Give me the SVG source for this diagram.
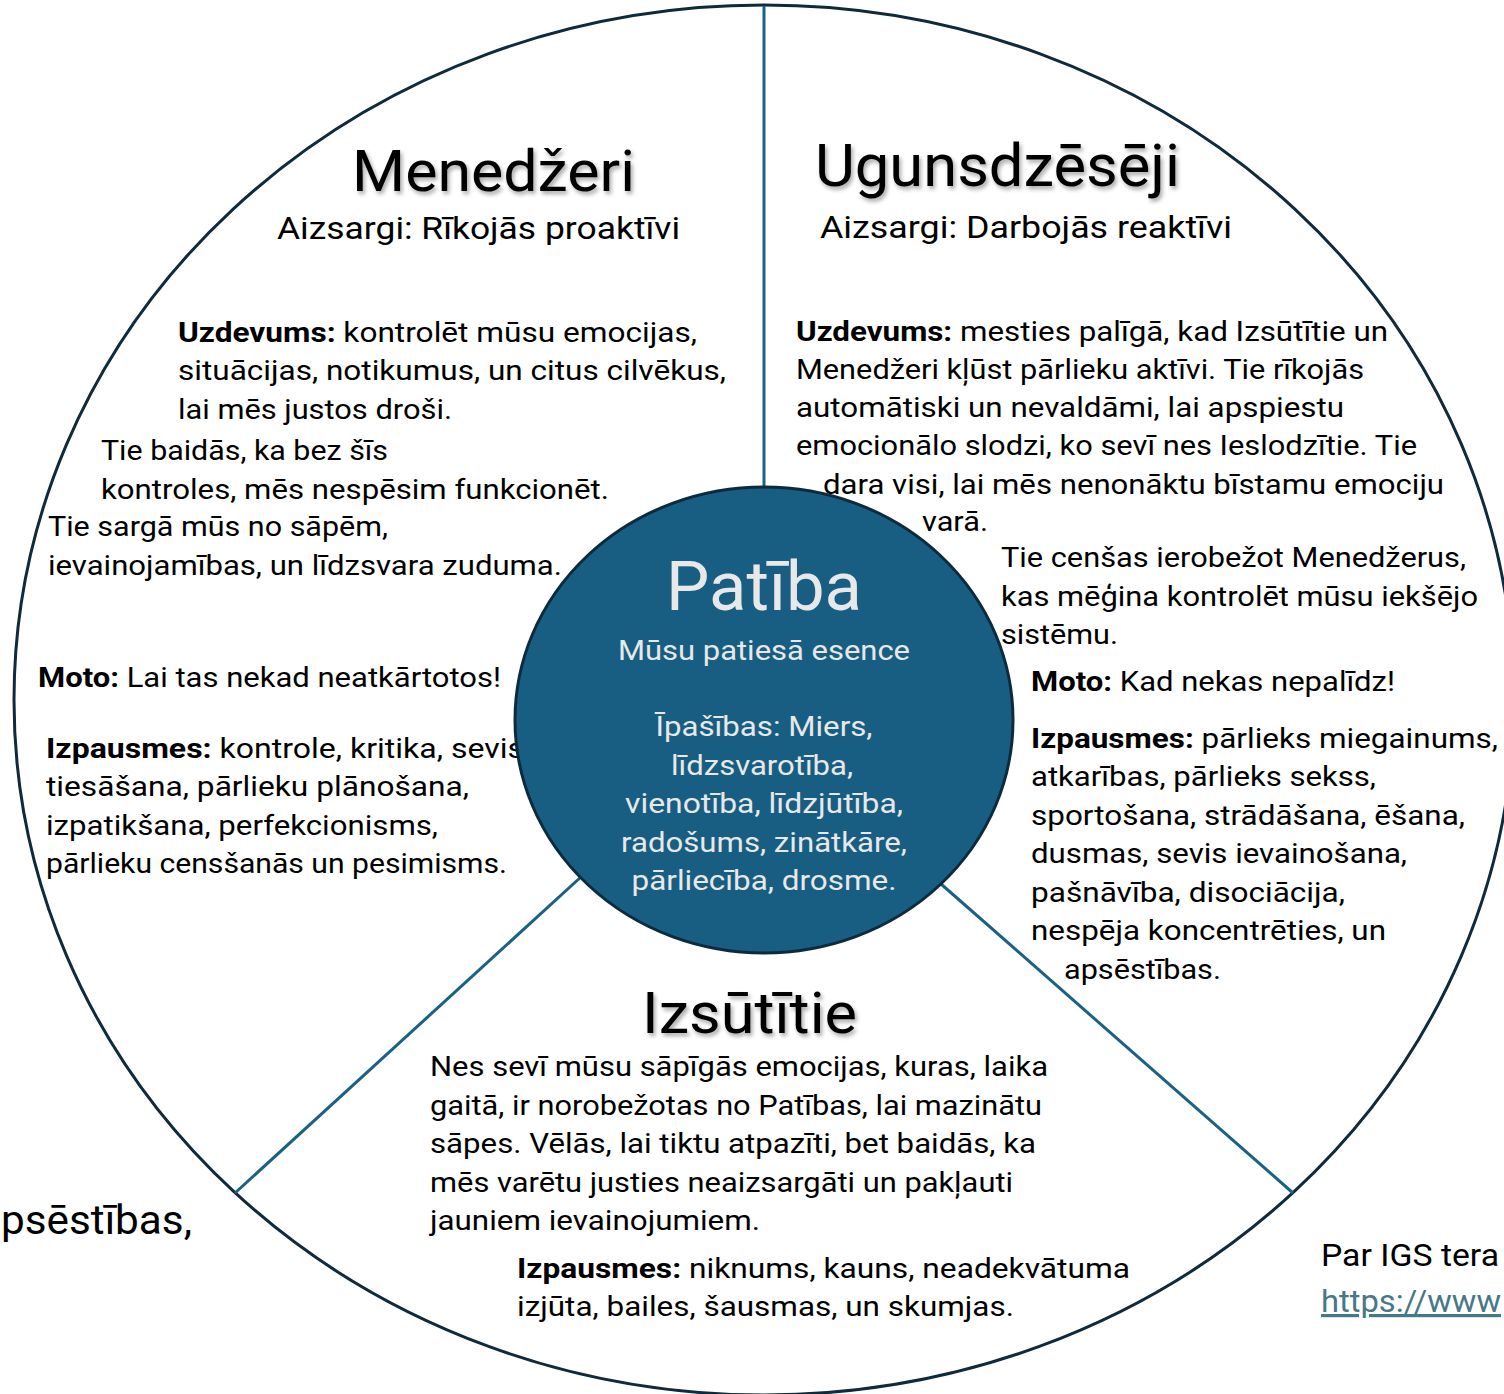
<svg xmlns="http://www.w3.org/2000/svg" width="1504" height="1394" viewBox="0 0 1504 1394">
<defs>
<style>
.t{font-family:Roboto,"Liberation Sans",sans-serif;font-size:28px;fill:#000}
.b{font-weight:700}
.h{font-family:Roboto,"Liberation Sans",sans-serif;font-size:58px;fill:#000}
.s{font-family:Roboto,"Liberation Sans",sans-serif;font-size:32px;fill:#000}
.c{font-family:Roboto,"Liberation Sans",sans-serif;font-size:28px;fill:#E8E8E8;text-anchor:middle}
.conn{stroke:#1A6186;stroke-width:3;fill:none}
.link{fill:#467886;text-decoration:underline}
</style>
<filter id="sh" x="-10%" y="-20%" width="130%" height="150%">
<feDropShadow dx="2" dy="3" stdDeviation="2" flood-color="#000" flood-opacity="0.35"/>
</filter>
</defs>
<rect width="1504" height="1394" fill="#fff"/>
<g id="outer">
<ellipse cx="764" cy="700" rx="750" ry="695" fill="#fff" stroke="#0E2A3B" stroke-width="3"/>
</g>
<g id="connectors">
<line class="conn" x1="764" y1="6" x2="764" y2="490"/>
<line class="conn" x1="582" y1="876" x2="235" y2="1193"/>
<line class="conn" x1="941" y1="884" x2="1293" y2="1193"/>
</g>
<g id="menedzeri">
<text class="h" x="352" y="191" textLength="283" lengthAdjust="spacingAndGlyphs" filter="url(#sh)">Menedžeri</text>
<text class="s" x="277" y="239" textLength="403" lengthAdjust="spacingAndGlyphs">Aizsargi: Rīkojās proaktīvi</text>
<text class="t" x="178" y="342" textLength="519" lengthAdjust="spacingAndGlyphs"><tspan class="b">Uzdevums:</tspan> kontrolēt mūsu emocijas,</text>
<text class="t" x="178" y="380" textLength="548" lengthAdjust="spacingAndGlyphs">situācijas, notikumus, un citus cilvēkus,</text>
<text class="t" x="178" y="419" textLength="274" lengthAdjust="spacingAndGlyphs">lai mēs justos droši.</text>
<text class="t" x="101" y="460" textLength="287" lengthAdjust="spacingAndGlyphs">Tie baidās, ka bez šīs</text>
<text class="t" x="101" y="499" textLength="508" lengthAdjust="spacingAndGlyphs">kontroles, mēs nespēsim funkcionēt.</text>
<text class="t" x="48" y="536" textLength="340" lengthAdjust="spacingAndGlyphs">Tie sargā mūs no sāpēm,</text>
<text class="t" x="48" y="575" textLength="514" lengthAdjust="spacingAndGlyphs">ievainojamības, un līdzsvara zuduma.</text>
<text class="t" x="38" y="687" textLength="463" lengthAdjust="spacingAndGlyphs"><tspan class="b">Moto:</tspan> Lai tas nekad neatkārtotos!</text>
<text class="t" x="46" y="758" textLength="478" lengthAdjust="spacingAndGlyphs"><tspan class="b">Izpausmes:</tspan> kontrole, kritika, sevis</text>
<text class="t" x="46" y="796" textLength="423" lengthAdjust="spacingAndGlyphs">tiesāšana, pārlieku plānošana,</text>
<text class="t" x="46" y="835" textLength="392" lengthAdjust="spacingAndGlyphs">izpatikšana, perfekcionisms,</text>
<text class="t" x="46" y="873" textLength="461" lengthAdjust="spacingAndGlyphs">pārlieku censšanās un pesimisms.</text>
</g>
<g id="ugunsdzeseji">
<text class="h" x="815" y="186" style="font-size:60px" textLength="365" lengthAdjust="spacingAndGlyphs" filter="url(#sh)">Ugunsdzēsēji</text>
<text class="s" x="820" y="238" textLength="412" lengthAdjust="spacingAndGlyphs">Aizsargi: Darbojās reaktīvi</text>
<text class="t" x="796" y="341" textLength="592" lengthAdjust="spacingAndGlyphs"><tspan class="b">Uzdevums:</tspan> mesties palīgā, kad Izsūtītie un</text>
<text class="t" x="796" y="379" textLength="568" lengthAdjust="spacingAndGlyphs">Menedžeri kļūst pārlieku aktīvi. Tie rīkojās</text>
<text class="t" x="796" y="417" textLength="548" lengthAdjust="spacingAndGlyphs">automātiski un nevaldāmi, lai apspiestu</text>
<text class="t" x="796" y="455" textLength="621" lengthAdjust="spacingAndGlyphs">emocionālo slodzi, ko sevī nes Ieslodzītie. Tie</text>
<text class="t" x="823" y="494" textLength="621" lengthAdjust="spacingAndGlyphs">dara visi, lai mēs nenonāktu bīstamu emociju</text>
<text class="t" x="922" y="531" textLength="66" lengthAdjust="spacingAndGlyphs">varā.</text>
<text class="t" x="1001" y="567" textLength="465" lengthAdjust="spacingAndGlyphs">Tie cenšas ierobežot Menedžerus,</text>
<text class="t" x="1001" y="606" textLength="477" lengthAdjust="spacingAndGlyphs">kas mēģina kontrolēt mūsu iekšējo</text>
<text class="t" x="1001" y="644" textLength="117" lengthAdjust="spacingAndGlyphs">sistēmu.</text>
<text class="t" x="1031" y="691" textLength="364" lengthAdjust="spacingAndGlyphs"><tspan class="b">Moto:</tspan> Kad nekas nepalīdz!</text>
<text class="t" x="1031" y="748" textLength="467" lengthAdjust="spacingAndGlyphs"><tspan class="b">Izpausmes:</tspan> pārlieks miegainums,</text>
<text class="t" x="1031" y="786" textLength="345" lengthAdjust="spacingAndGlyphs">atkarības, pārlieks sekss,</text>
<text class="t" x="1031" y="825" textLength="434" lengthAdjust="spacingAndGlyphs">sportošana, strādāšana, ēšana,</text>
<text class="t" x="1031" y="863" textLength="376" lengthAdjust="spacingAndGlyphs">dusmas, sevis ievainošana,</text>
<text class="t" x="1031" y="902" textLength="314" lengthAdjust="spacingAndGlyphs">pašnāvība, disociācija,</text>
<text class="t" x="1031" y="940" textLength="355" lengthAdjust="spacingAndGlyphs">nespēja koncentrēties, un</text>
<text class="t" x="1064" y="979" textLength="157" lengthAdjust="spacingAndGlyphs">apsēstības.</text>
</g>
<g id="izsutitie">
<text class="h" x="642" y="1033" textLength="215" lengthAdjust="spacingAndGlyphs" filter="url(#sh)">Izsūtītie</text>
<text class="t" x="430" y="1076" textLength="618" lengthAdjust="spacingAndGlyphs">Nes sevī mūsu sāpīgās emocijas, kuras, laika</text>
<text class="t" x="430" y="1115" textLength="612" lengthAdjust="spacingAndGlyphs">gaitā, ir norobežotas no Patības, lai mazinātu</text>
<text class="t" x="430" y="1153" textLength="606" lengthAdjust="spacingAndGlyphs">sāpes. Vēlās, lai tiktu atpazīti, bet baidās, ka</text>
<text class="t" x="430" y="1192" textLength="583" lengthAdjust="spacingAndGlyphs">mēs varētu justies neaizsargāti un pakļauti</text>
<text class="t" x="430" y="1230" textLength="330" lengthAdjust="spacingAndGlyphs">jauniem ievainojumiem.</text>
<text class="t" x="517" y="1278" textLength="613" lengthAdjust="spacingAndGlyphs"><tspan class="b">Izpausmes:</tspan> niknums, kauns, neadekvātuma</text>
<text class="t" x="517" y="1316" textLength="497" lengthAdjust="spacingAndGlyphs">izjūta, bailes, šausmas, un skumjas.</text>
</g>
<g id="patiba">
<ellipse cx="764" cy="720" rx="249" ry="233" fill="#175E82" stroke="#0D2B3C" stroke-width="3"/>
<text class="c" x="764" y="610" style="font-size:68px" textLength="196" lengthAdjust="spacingAndGlyphs">Patība</text>
<text class="c" x="764" y="660" textLength="292" lengthAdjust="spacingAndGlyphs">Mūsu patiesā esence</text>
<text class="c" x="764" y="736" textLength="217" lengthAdjust="spacingAndGlyphs">Īpašības: Miers,</text>
<text class="c" x="762" y="775" textLength="182" lengthAdjust="spacingAndGlyphs">līdzsvarotība,</text>
<text class="c" x="764" y="813" textLength="278" lengthAdjust="spacingAndGlyphs">vienotība, līdzjūtība,</text>
<text class="c" x="764" y="852" textLength="286" lengthAdjust="spacingAndGlyphs">radošums, zinātkāre,</text>
<text class="c" x="764" y="890" textLength="265" lengthAdjust="spacingAndGlyphs">pārliecība, drosme.</text>
</g>
<g id="outside">
<text class="t" x="1" y="1234" style="font-size:40px" textLength="191" lengthAdjust="spacingAndGlyphs">psēstības,</text>
<text class="s" x="1321" y="1266" textLength="178" lengthAdjust="spacingAndGlyphs">Par IGS tera</text>
<text class="s link" x="1321" y="1312" textLength="180" lengthAdjust="spacingAndGlyphs">https://www</text>
</g>
</svg>
